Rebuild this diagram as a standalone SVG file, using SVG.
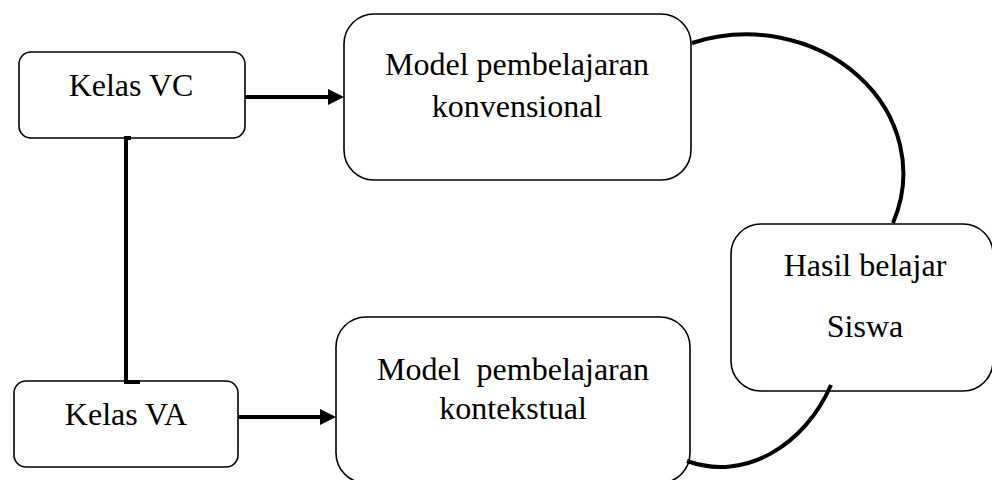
<svg xmlns="http://www.w3.org/2000/svg" width="992" height="480" viewBox="0 0 992 480">
<style>
.box{fill:#fff;stroke:#000;stroke-width:1.6}
.t{font-family:"Liberation Serif","Times New Roman",serif;font-size:32px;fill:#000;text-anchor:middle}
.c{fill:none;stroke:#000;stroke-width:4}
</style>
<defs>
<marker id="ah" markerUnits="userSpaceOnUse" markerWidth="16" markerHeight="17" refX="0" refY="8" orient="auto" overflow="visible">
<path d="M0,0 L16,8 L0,16 Z" fill="#000"/>
</marker>
</defs>
<rect width="992" height="480" fill="#fff"/>
<g id="kelas-vc">
<rect class="box" x="19" y="52" width="226" height="86" rx="12"/>
<text class="t" x="131" y="96">Kelas VC</text>
</g>
<g id="kelas-va">
<rect class="box" x="14" y="381" width="224" height="86" rx="12"/>
<text class="t" x="126" y="425">Kelas VA</text>
</g>
<g id="model-konvensional">
<rect class="box" x="344" y="14" width="347" height="166" rx="30"/>
<text class="t" x="517" y="75">Model pembelajaran</text>
<text class="t" x="517" y="117">konvensional</text>
</g>
<g id="model-kontekstual">
<rect class="box" x="336" y="317" width="354" height="166" rx="30"/>
<text class="t" x="513" y="380" xml:space="preserve">Model  pembelajaran</text>
<text class="t" x="513" y="419">kontekstual</text>
</g>
<g id="hasil-belajar">
<rect class="box" x="731" y="224" width="262" height="167" rx="30"/>
<text class="t" x="865" y="276">Hasil belajar</text>
<text class="t" x="865" y="337">Siswa</text>
</g>
<g id="connectors">
<line class="c" x1="245" y1="97" x2="328" y2="97" marker-end="url(#ah)"/>
<line class="c" x1="238" y1="417" x2="320" y2="417" marker-end="url(#ah)"/>
<line class="c" x1="126" y1="138" x2="126" y2="383"/>
<rect x="124" y="136" width="7" height="4" fill="#000"/>
<rect x="124" y="380" width="16" height="4" fill="#000"/>
<path class="c" d="M692,43 A157,139 0 0 1 893,223"/>
<path class="c" d="M831,385 C805,445 745,482 687,461"/>
</g>
</svg>
